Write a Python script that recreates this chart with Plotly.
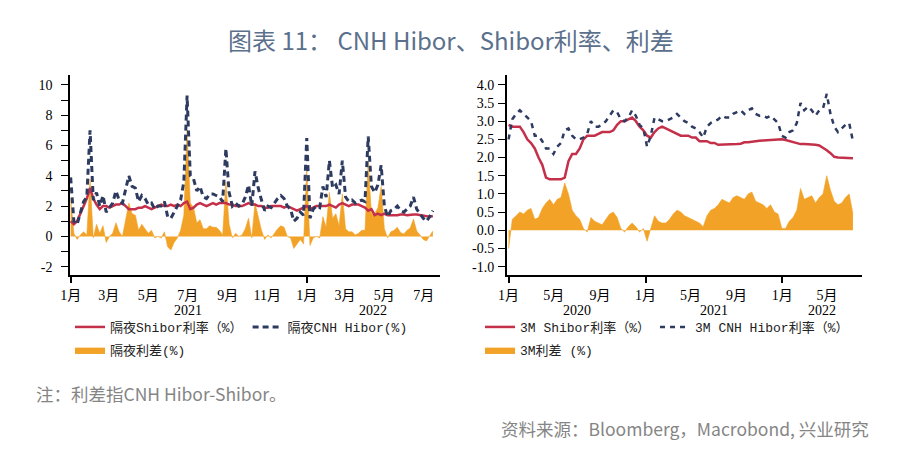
import plotly.graph_objects as go
import pandas as pd

# ---------------- data ----------------
# Left panel: overnight rates, 5-day sampling from 2021-01-01
left_start = "2021-01-01"
left_hibor = [3.9, 1.0, 0.8, 1.6, 2.3, 2.6, 7.0, 2.4, 2.9, 2.0,
              2.7, 1.6, 1.9, 2.2, 3.0, 2.4, 2.2, 3.1, 4.0, 3.3,
              3.2, 2.3, 2.7, 2.5, 2.1, 2.2, 1.8, 2.0, 2.0, 2.3,
              1.3, 1.2, 1.6, 2.0, 2.4, 3.6, 9.3, 4.0, 3.8, 3.0,
              3.3, 2.6, 2.5, 2.8, 2.8, 2.7, 2.6, 2.3, 5.8, 2.9,
              2.0, 2.2, 2.0, 2.1, 2.6, 3.4, 2.0, 4.3, 3.2, 2.4,
              1.7, 2.0, 1.9, 2.2, 2.5, 2.7, 2.5, 2.0, 1.8, 1.0,
              1.2, 1.6, 1.4, 6.5, 1.2, 1.8, 2.0, 1.9, 3.3, 2.6,
              5.0, 3.2, 3.4, 2.8, 5.0, 2.6, 2.3, 2.4, 2.2, 2.3,
              2.4, 2.3, 6.6, 3.3, 2.9, 3.4, 4.7, 2.0, 1.3, 1.7,
              1.8, 2.0, 1.7, 1.6, 1.8, 2.0, 2.6, 1.8, 1.5, 1.2,
              1.0, 1.3, 1.7]
left_shibor = [1.0, 0.8, 1.0, 1.5, 2.0, 2.5, 3.2, 2.5, 2.1, 1.8,
               2.0, 2.0, 1.9, 2.0, 2.1, 2.1, 2.2, 2.0, 1.8, 1.8,
               1.8, 1.9, 1.9, 2.0, 1.9, 1.8, 1.9, 2.0, 2.1, 2.0,
               2.0, 2.1, 2.0, 2.1, 2.0, 2.2, 2.3, 1.8, 1.9, 2.1,
               2.2, 2.1, 2.0, 2.1, 2.2, 2.1, 2.2, 2.2, 2.2, 2.1,
               2.1, 2.0, 2.0, 2.0, 2.1, 2.2, 2.1, 2.1, 2.0, 2.0,
               1.9, 1.9, 2.0, 2.0, 2.0, 2.0, 1.9, 2.0, 1.9, 1.8,
               1.7, 1.8, 1.9, 2.0, 1.8, 1.9, 2.0, 2.0, 2.0, 2.0,
               2.1, 2.0, 1.9, 2.1, 2.2, 2.1, 2.0, 2.1, 2.1, 2.1,
               2.0, 1.9, 1.7, 1.8, 1.4, 1.5, 1.4, 1.5, 1.4, 1.4,
               1.4, 1.4, 1.45, 1.45, 1.4, 1.45, 1.45, 1.45, 1.4, 1.4,
               1.3, 1.3, 1.35]
left_spread = [2.5, 0.2, -0.2, 0.1, 0.3, 0.1, 3.8, -0.1, 0.8, 0.2,
               0.7, -0.4, 0.0, 0.2, 0.9, 0.3, 0.0, 1.1, 2.2, 1.5,
               1.4, 0.4, 0.8, 0.5, 0.2, 0.4, -0.1, 0.0, -0.1, 0.3,
               -0.7, -0.9, -0.4, -0.1, 0.4, 1.4, 7.0, 2.2, 1.9, 0.9,
               1.1, 0.5, 0.5, 0.7, 0.6, 0.6, 0.4, 0.1, 3.6, 0.8,
               -0.1, 0.2, 0.0, 0.1, 0.5, 1.2, -0.1, 2.2, 1.2, 0.4,
               -0.2, 0.1, -0.1, 0.2, 0.5, 0.7, 0.6, 0.0, -0.1, -0.8,
               -0.5, -0.2, -0.5, 4.5, -0.6, -0.1, 0.0, -0.1, 1.3, 0.6,
               2.9, 1.2, 1.5, 0.7, 2.8, 0.5, 0.3, 0.3, 0.1, 0.2,
               0.4, 0.4, 4.9, 1.5, 1.5, 1.9, 3.3, 0.5, -0.1, 0.3,
               0.4, 0.6, 0.25, 0.15, 0.4, 0.55, 1.15, 0.35, 0.1, -0.2,
               -0.3, 0.0, 0.35]

# Right panel: 3M rates, 10-day sampling from 2020-01-01
right_start = "2020-01-01"
right_shibor = [2.9, 2.85, 2.85, 2.85, 2.7, 2.5, 2.4, 2.25, 2.0, 1.8,
                1.45, 1.4, 1.4, 1.4, 1.4, 1.45, 1.9, 2.1, 2.1, 2.25,
                2.5, 2.6, 2.6, 2.6, 2.65, 2.7, 2.7, 2.7, 2.75, 2.9,
                3.0, 3.0, 3.05, 3.1, 3.0, 2.85, 2.75, 2.6, 2.55, 2.7,
                2.8, 2.85, 2.8, 2.75, 2.7, 2.65, 2.6, 2.6, 2.6, 2.55,
                2.55, 2.45, 2.45, 2.45, 2.4, 2.4, 2.35, 2.35, 2.35, 2.35,
                2.35, 2.37, 2.38, 2.42, 2.42, 2.44, 2.45, 2.46, 2.47, 2.48,
                2.49, 2.5, 2.5, 2.5, 2.48, 2.45, 2.42, 2.4, 2.37, 2.37,
                2.37, 2.37, 2.35, 2.33, 2.27, 2.2, 2.12, 2.02, 2.0, 2.0,
                2.0, 2.0, 1.98]
right_hibor = [2.5, 3.05, 3.2, 3.3, 3.2, 3.1, 3.0, 2.6, 2.6, 2.45,
               2.25, 2.25, 2.1, 2.3, 2.4, 2.75, 2.8, 2.6, 2.5, 2.5,
               2.55, 2.65, 3.0, 2.85, 2.85, 2.9, 3.0, 3.15, 3.3, 3.25,
               3.05, 3.0, 3.1, 3.3, 3.15, 2.9, 2.8, 2.3, 2.6, 3.1,
               3.05, 3.0, 3.0, 3.05, 3.1, 3.2, 3.1, 3.0, 2.95, 2.85,
               2.8, 2.7, 2.55, 2.85, 2.95, 3.0, 3.05, 3.15, 3.1, 3.1,
               3.2, 3.25, 3.3, 3.2, 3.3, 3.35, 3.2, 3.15, 3.15, 3.1,
               3.15, 3.05, 2.95, 2.6, 2.55, 2.7, 2.75, 2.95, 3.5, 3.3,
               3.4, 3.3, 3.15, 3.3, 3.35, 3.75, 3.2, 2.85, 2.7, 2.8,
               2.9, 2.95, 2.45]
right_spread = [-0.5, 0.3, 0.4, 0.5, 0.45, 0.55, 0.6, 0.3, 0.35, 0.6,
                0.75, 0.85, 0.7, 0.85, 0.9, 1.3, 1.0, 0.55, 0.4, 0.3,
                0.05, -0.05, 0.35, 0.25, 0.2, 0.15, 0.3, 0.45, 0.5, 0.35,
                0.05, -0.05, 0.1, 0.2, 0.1, -0.05, 0.05, -0.3, 0.05, 0.4,
                0.25, 0.2, 0.2, 0.3, 0.45, 0.55, 0.5, 0.4, 0.35, 0.3,
                0.25, 0.2, 0.1, 0.4, 0.55, 0.6, 0.7, 0.85, 0.8, 0.75,
                0.9, 0.95, 0.9, 0.85, 1.0, 1.05, 0.8, 0.75, 0.7, 0.6,
                0.7, 0.5, 0.45, 0.05, 0.05, 0.25, 0.35, 0.55, 1.15, 0.85,
                0.9, 0.95, 0.75, 0.9, 1.0, 1.5, 1.1, 0.8, 0.7, 0.75,
                0.9, 1.0, 0.45]

left_names = ["隔夜Shibor利率（%）", "隔夜CNH Hibor(%)", "隔夜利差(%)"]
right_names = ["3M Shibor利率（%）", "3M CNH Hibor利率（%）", "3M利差 (%)"]
left_years = [("2021", "2021-07-01"), ("2022", "2022-04-13")]
right_years = [("2020", "2020-07-02"), ("2021", "2021-07-03"), ("2022", "2022-04-17")]
left_yticks = [-2, 0, 2, 4, 6, 8, 10]
left_ylabels = ["-2", "0", "2", "4", "6", "8", "10"]
right_yticks = [-1.0, -0.5, 0.0, 0.5, 1.0, 1.5, 2.0, 2.5, 3.0, 3.5, 4.0]
right_ylabels = ["-1.0", "-0.5", "0.0", "0.5", "1.0", "1.5", "2.0", "2.5", "3.0", "3.5", "4.0"]

title_text = "图表 11： CNH Hibor、Shibor利率、利差"
note_text = "注：利差指CNH Hibor-Shibor。"
source_text = "资料来源：Bloomberg，Macrobond, 兴业研究"

# ---------------- styling ----------------
W, H = 902, 466
RED = "#C4304A"
NAVY = "#2E3B60"
ORANGE = "#F2A227"
SERIF = "Liberation Serif, Noto Sans CJK SC, serif"
LEGFONT = "Liberation Mono, Noto Sans CJK SC, monospace"
SANS = "Noto Sans CJK SC, Noto Sans, sans-serif"


def fx(p):
    return p / W


def fy(p):
    return 1 - p / H


left_dates = pd.date_range(left_start, periods=len(left_hibor), freq="5D")
right_dates = pd.date_range(right_start, periods=len(right_hibor), freq="10D")

fig = go.Figure()

# left panel
fig.add_trace(go.Scatter(x=left_dates, y=left_spread, mode="lines", fill="tozeroy",
                         line=dict(color=ORANGE, width=0.6), fillcolor=ORANGE,
                         name=left_names[2], legend="legend2", xaxis="x", yaxis="y"))
fig.add_trace(go.Scatter(x=left_dates, y=left_shibor, mode="lines",
                         line=dict(color=RED, width=2.5),
                         name=left_names[0], legend="legend", xaxis="x", yaxis="y"))
fig.add_trace(go.Scatter(x=left_dates, y=left_hibor, mode="lines",
                         line=dict(color=NAVY, width=3, dash="6px,4px"),
                         name=left_names[1], legend="legend", xaxis="x", yaxis="y"))

# right panel
fig.add_trace(go.Scatter(x=right_dates, y=right_spread, mode="lines", fill="tozeroy",
                         line=dict(color=ORANGE, width=0.6), fillcolor=ORANGE,
                         name=right_names[2], legend="legend4", xaxis="x2", yaxis="y2"))
fig.add_trace(go.Scatter(x=right_dates, y=right_shibor, mode="lines",
                         line=dict(color=RED, width=2.5),
                         name=right_names[0], legend="legend3", xaxis="x2", yaxis="y2"))
fig.add_trace(go.Scatter(x=right_dates, y=right_hibor, mode="lines",
                         line=dict(color=NAVY, width=2.5, dash="5px,5px"),
                         name=right_names[1], legend="legend3", xaxis="x2", yaxis="y2"))

# helper traces for the year-boundary tick axes
fig.add_trace(go.Scatter(x=[left_dates[0]], y=[None], xaxis="x3", yaxis="y",
                         showlegend=False, hoverinfo="skip"))
fig.add_trace(go.Scatter(x=[right_dates[0]], y=[None], xaxis="x4", yaxis="y2",
                         showlegend=False, hoverinfo="skip"))

L_DOM = [fx(70), fx(440)]
R_DOM = [fx(506.7), fx(862.3)]
Y_DOM = [fy(275), fy(75)]
L_RANGE = ["2020-12-31", "2022-07-26"]
R_RANGE = ["2019-12-27", "2022-08-03"]

axis_common = dict(showline=True, linecolor="black", linewidth=1.5, showgrid=False,
                   zeroline=False, automargin=False,
                   tickfont=dict(family=SERIF, size=14, color="black"))

fig.update_layout(
    width=W, height=H,
    margin=dict(l=0, r=0, t=0, b=0, autoexpand=False),
    paper_bgcolor="white", plot_bgcolor="white",
    showlegend=True,
    xaxis=dict(domain=L_DOM, anchor="y", type="date", range=L_RANGE,
               dtick="M2", tick0="2021-01-01", tickformat="%-m月",
               ticks="", ticklabelstandoff=6, **axis_common),
    xaxis3=dict(overlaying="x", anchor="y", type="date", range=L_RANGE,
                dtick="M12", tick0="2021-01-01", ticks="outside", ticklen=7,
                tickcolor="black", tickwidth=1.5, showticklabels=False,
                showline=False, showgrid=False, zeroline=False),
    yaxis=dict(domain=Y_DOM, anchor="x", range=[-2.55, 10.66],
               tickvals=left_yticks, ticktext=left_ylabels,
               ticks="outside", ticklen=7, tickcolor="black", tickwidth=1,
               minor=dict(dtick=1, tick0=0, ticks="outside", ticklen=7, tickcolor="black"),
               ticklabelstandoff=6, **axis_common),
    xaxis2=dict(domain=R_DOM, anchor="y2", type="date", range=R_RANGE,
                dtick="M4", tick0="2020-01-01", tickformat="%-m月",
                ticks="", ticklabelstandoff=6, **axis_common),
    xaxis4=dict(overlaying="x2", anchor="y2", type="date", range=R_RANGE,
                dtick="M12", tick0="2020-01-01", ticks="outside", ticklen=7,
                tickcolor="black", tickwidth=1.5, showticklabels=False,
                showline=False, showgrid=False, zeroline=False),
    yaxis2=dict(domain=Y_DOM, anchor="x2", range=[-1.23, 4.27],
                tickvals=right_yticks, ticktext=right_ylabels,
                ticks="outside", ticklen=7, tickcolor="black",
                ticklabelstandoff=1, **axis_common),
)

leg_common = dict(orientation="h", xanchor="left", yanchor="middle",
                  bgcolor="rgba(0,0,0,0)", borderwidth=0,
                  font=dict(family=LEGFONT, size=13, color="#222"),
                  traceorder="normal", itemwidth=30)
fig.update_layout(
    legend=dict(x=fx(70), y=fy(327), **leg_common),
    legend2=dict(x=fx(70), y=fy(350), **leg_common),
    legend3=dict(x=fx(480), y=fy(327), **leg_common),
    legend4=dict(x=fx(480), y=fy(350), **leg_common),
)

annotations = []
for txt, d in left_years:
    annotations.append(dict(text=txt, x=d, xref="x", y=fy(310), yref="paper",
                            showarrow=False, xanchor="center", yanchor="middle",
                            font=dict(family=SERIF, size=14, color="black")))
for txt, d in right_years:
    annotations.append(dict(text=txt, x=d, xref="x2", y=fy(310), yref="paper",
                            showarrow=False, xanchor="center", yanchor="middle",
                            font=dict(family=SERIF, size=14, color="black")))
annotations.append(dict(text=title_text, x=0.5, y=fy(39), xref="paper", yref="paper",
                        showarrow=False, xanchor="center", yanchor="middle",
                        font=dict(family=SANS, size=24, color="#5B708C")))
annotations.append(dict(text=note_text, x=fx(34), y=fy(393), xref="paper", yref="paper",
                        showarrow=False, xanchor="left", yanchor="middle",
                        font=dict(family=SANS, size=17.5, color="#858585")))
annotations.append(dict(text=source_text, x=fx(871), y=fy(428), xref="paper", yref="paper",
                        showarrow=False, xanchor="right", yanchor="middle",
                        font=dict(family=SANS, size=17.5, color="#858585")))
fig.update_layout(annotations=annotations)

fig.write_html("out.html", config={"displayModeBar": False},
               post_script="document.body.style.margin='0';")
